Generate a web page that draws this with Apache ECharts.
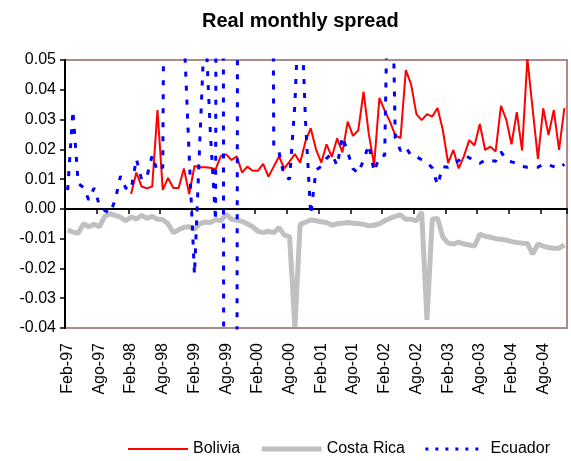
<!DOCTYPE html>
<html>
<head>
<meta charset="utf-8">
<script src="https://cdn.jsdelivr.net/npm/echarts@6/dist/echarts.min.js"></script>
<style>
  html, body { margin: 0; padding: 0; background: #fff; }
  #chart { width: 571px; height: 461px; }
</style>
</head>
<body>
<div id="chart"></div>
<script>
// meses Feb-97 .. Dic-04
const monthNames = ['Ene', 'Feb', 'Mar', 'Abr', 'May', 'Jun', 'Jul', 'Ago', 'Sep', 'Oct', 'Nov', 'Dic'];
const years = ['97', '98', '99', '00', '01', '02', '03', '04'];
const categories = [];
years.forEach((y, yi) => {
  monthNames.forEach((m, mi) => {
    if (yi === 0 && mi === 0) return;
    categories.push(m + '-' + y);
  });
});

const yTicks = [-0.04, -0.03, -0.02, -0.01, 0, 0.01, 0.02, 0.03, 0.04, 0.05];

// Bolivia empieza en Feb-98
const bolivia = [
  null, null, null, null, null, null, null, null, null, null, null, null,
  0.0050, 0.0122, 0.0075, 0.0069, 0.0075, 0.0332, 0.0064, 0.0104, 0.0070, 0.0070,
  0.0136, 0.0050, 0.0144, 0.0140, 0.0140, 0.0138, 0.0133, 0.0178, 0.0183, 0.0164,
  0.0177, 0.0122, 0.0142, 0.0128, 0.0128, 0.0151, 0.0108, 0.0142, 0.0176, 0.0136,
  0.0159, 0.0184, 0.0155, 0.0226, 0.0271, 0.0200, 0.0155, 0.0217, 0.0175, 0.0237,
  0.0190, 0.0293, 0.0245, 0.0264, 0.0394, 0.0250, 0.0147, 0.0373, 0.0330, 0.0293,
  0.0247, 0.0238, 0.0466, 0.0418, 0.0318, 0.0298, 0.0318, 0.0310, 0.0339, 0.0265,
  0.0154, 0.0198, 0.0136, 0.0177, 0.0231, 0.0213, 0.0285, 0.0198, 0.0209, 0.0193,
  0.0346, 0.0300, 0.0217, 0.0325, 0.0196, 0.0505, 0.0335, 0.0168, 0.0338, 0.0248,
  0.0332, 0.0198, 0.0338
];

const costaRica = [
  -0.0071, -0.0078, -0.0082, -0.0050, -0.0060, -0.0052, -0.0060, -0.0026, -0.0016, -0.0022,
  -0.0028, -0.0040, -0.0027, -0.0034, -0.0022, -0.0032, -0.0025, -0.0035, -0.0036, -0.0050,
  -0.0080, -0.0070, -0.0062, -0.0060, -0.0068, -0.0050, -0.0044, -0.0046, -0.0036, -0.0040,
  -0.0018, -0.0035, -0.0038, -0.0042, -0.0050, -0.0060, -0.0075, -0.0080, -0.0075, -0.0080,
  -0.0063, -0.0088, -0.0093, -0.0396, -0.0052, -0.0045, -0.0037, -0.0040, -0.0043, -0.0046,
  -0.0055, -0.0050, -0.0048, -0.0046, -0.0048, -0.0050, -0.0052, -0.0057, -0.0055, -0.0050,
  -0.0040, -0.0032, -0.0025, -0.0020, -0.0035, -0.0035, -0.0040, -0.0010, -0.0373, -0.0035,
  -0.0032, -0.0095, -0.0115, -0.0118, -0.0112, -0.0118, -0.0121, -0.0125, -0.0085, -0.0092,
  -0.0095, -0.0100, -0.0102, -0.0105, -0.0110, -0.0113, -0.0115, -0.0116, -0.0152, -0.0118,
  -0.0125, -0.0130, -0.0132, -0.0132, -0.0121
];

// Ecuador se sale de la escala varias veces (1998-2000)
const ecuador = [
  0.0063, 0.0330, 0.0085, 0.0072, 0.0030, 0.0070, 0.0013, -0.0005, -0.0015, 0.0030,
  0.0110, 0.0070, 0.0064, 0.0168, 0.0098, 0.0108, 0.0180, 0.0125, 0.0140, 0.3000,
  0.2500, 0.2000, 0.0600, 0.0180, -0.0220, 0.0220, 0.0650, 0.0260, -0.0040, 1.0000,
  -1.0000, -1.0000, -0.1000, 1.0000, 0.8000, 0.8000, 0.6000, 0.6000, 0.5000, 0.0210,
  0.0190, 0.0108, 0.0100, 0.0350, 0.0780, 0.0300, -0.0020, 0.0130, 0.0143, 0.0170,
  0.0185, 0.0145, 0.0243, 0.0190, 0.0135, 0.0120, 0.0165, 0.0215, 0.0125, 0.0175,
  0.0180, 0.1200, 0.0240, 0.0195, 0.0208, 0.0178, 0.0175, 0.0165, 0.0155, 0.0138,
  0.0080, 0.0142, 0.0140, 0.0153, 0.0162, 0.0180, 0.0172, 0.0160, 0.0153, 0.0164,
  0.0162, 0.0160, 0.0192, 0.0165, 0.0158, 0.0153, 0.0143, 0.0140, 0.0140, 0.0140,
  0.0150, 0.0148, 0.0142, 0.0136, 0.0150
];

const font = "'Liberation Sans', Arial, sans-serif";

const chart = echarts.init(document.getElementById('chart'), null, { renderer: 'canvas' });

const option = {
  animation: false,
  backgroundColor: '#ffffff',
  title: {
    text: 'Real monthly spread',
    left: 197,
    top: 6,
    textStyle: { fontFamily: font, fontWeight: 'bold', fontSize: 20, color: '#000' }
  },
  legend: {
    left: 122,
    top: 436,
    itemWidth: 60,
    itemHeight: 14,
    itemGap: 19,
    itemStyle: { opacity: 0 },
    textStyle: { fontFamily: font, fontSize: 16, color: '#000' },
    data: [
      { name: 'Bolivia', lineStyle: { width: 2 } },
      { name: 'Costa Rica', lineStyle: { width: 5 } },
      { name: 'Ecuador', lineStyle: { width: 3, type: [3, 7] } }
    ]
  },
  grid: {
    left: 65,
    right: 4,
    top: 60,
    bottom: 133,
    outerBoundsMode: 'none',
    show: true,
    borderColor: '#b08a8a',
    borderWidth: 2,
    backgroundColor: '#ffffff'
  },
  xAxis: [
    {
      // línea en cero con marcas
      type: 'category',
      data: categories,
      boundaryGap: true,
      position: 'bottom',
      axisLine: { show: true, onZero: true, lineStyle: { color: '#000', width: 2 } },
      axisTick: { show: true, interval: 5, length: 5, lineStyle: { color: '#000', width: 1.5 } },
      axisLabel: { show: false },
      splitLine: { show: false }
    },
    {
      // etiquetas abajo
      type: 'category',
      data: categories,
      boundaryGap: true,
      position: 'bottom',
      axisLine: { show: false, onZero: false },
      axisTick: { show: false },
      axisLabel: {
        interval: 5,
        rotate: 90,
        margin: 15,
        fontFamily: font,
        fontSize: 16,
        color: '#000'
      },
      splitLine: { show: false }
    }
  ],
  yAxis: {
    type: 'value',
    min: -0.04,
    max: 0.05,
    interval: 0.01,
    axisLine: { show: true, lineStyle: { color: '#000', width: 2 } },
    axisTick: { show: true, length: 5, lineStyle: { color: '#000', width: 1.5 } },
    axisLabel: {
      margin: 9,
      fontFamily: font,
      fontSize: 16,
      color: '#000',
      formatter: v => (Math.round(v * 100) / 100).toFixed(2)
    },
    splitLine: { show: false }
  },
  series: [
    {
      name: 'Bolivia',
      type: 'line',
      xAxisIndex: 0,
      data: bolivia,
      symbol: 'none',
      color: '#ff0000',
      lineStyle: { color: '#ff0000', width: 2 }
    },
    {
      name: 'Costa Rica',
      type: 'line',
      xAxisIndex: 0,
      data: costaRica,
      symbol: 'none',
      color: '#c0c0c0',
      lineStyle: { color: '#c0c0c0', width: 5 }
    },
    {
      name: 'Ecuador',
      type: 'line',
      xAxisIndex: 0,
      data: ecuador,
      symbol: 'none',
      clip: true,
      color: '#0000ff',
      lineStyle: { color: '#0000ff', width: 3, type: [5, 9], cap: 'butt' }
    }
  ]
};

chart.setOption(option);
</script>
</body>
</html>
